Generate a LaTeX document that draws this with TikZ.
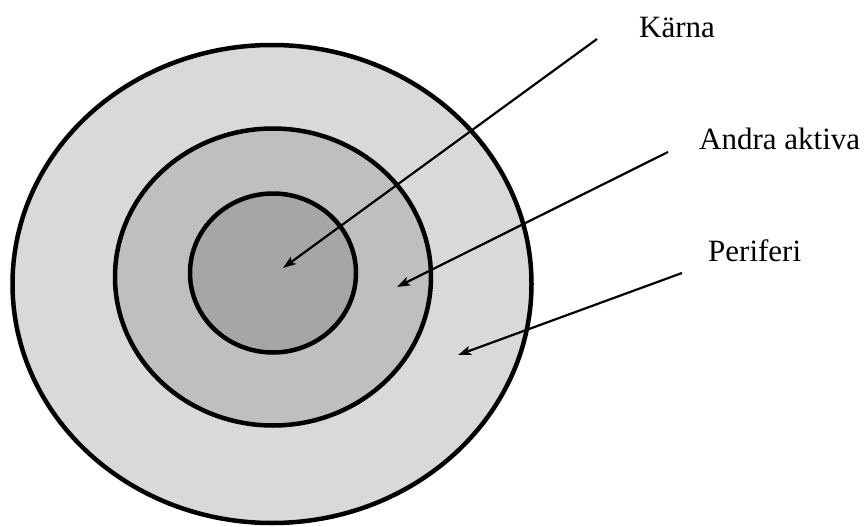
\documentclass[tikz,border=0pt]{standalone}
\usepackage{fontspec}
\setmainfont{Liberation Serif}
\usepackage{xcolor}
\usepackage{tikz}
\usetikzlibrary{arrows.meta,shapes.geometric}
\definecolor{outergray}{HTML}{D9D9D9}
\definecolor{midgray}{HTML}{BFBFBF}
\definecolor{innergray}{HTML}{A6A6A6}
\tikzset{
  ring/.style={ellipse, draw=black, line width=4.5pt, inner sep=0pt, outer sep=0pt},
  periferi/.style={ring, fill=outergray},
  aktiva/.style={ring, fill=midgray},
  karna/.style={ring, fill=innergray},
  label/.style={font=\fontsize{31}{36}\selectfont, anchor=base west, inner sep=0pt},
  pointer/.style={-{Stealth[length=13pt,width=9pt,inset=3pt]}, draw=black, line width=2.2pt}
}
\begin{document}
\begin{tikzpicture}[x=1pt,y=-1pt]
  \useasboundingbox (0,0) rectangle (868,527);

  \node[periferi, minimum width=519pt, minimum height=478pt] (outer) at (272,284) {};
  \node[aktiva, minimum width=316pt, minimum height=297pt] (middle) at (273,277) {};
  \node[karna, minimum width=166pt, minimum height=159pt] (inner) at (273,273) {};

  \node[label] (karnatext) at (639,38) {Kärna};
  \node[label] (aktivatext) at (699,149) {Andra aktiva};
  \node[label] (periferitext) at (708,261) {Periferi};

  \coordinate (karnafrom) at (597,39);
  \coordinate (karnato) at (283,268);
  \coordinate (aktivafrom) at (668,152);
  \coordinate (aktivato) at (397,287);
  \coordinate (periferifrom) at (682,273);
  \coordinate (periferito) at (458,355);

  \draw[pointer] (karnafrom) -- (karnato);
  \draw[pointer] (aktivafrom) -- (aktivato);
  \draw[pointer] (periferifrom) -- (periferito);
\end{tikzpicture}
\end{document}
